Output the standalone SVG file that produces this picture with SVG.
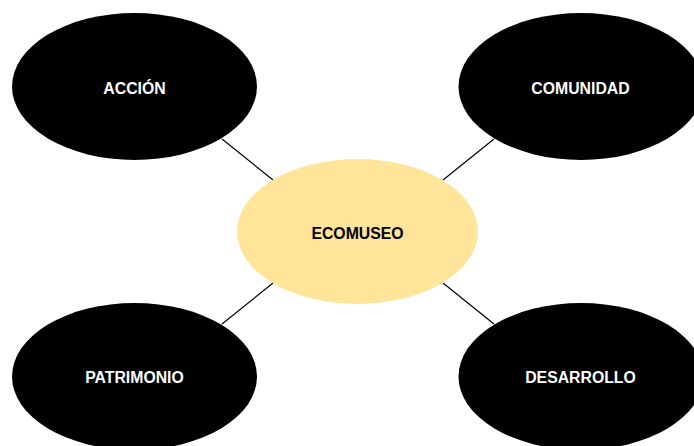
<svg xmlns="http://www.w3.org/2000/svg" width="694" height="446" viewBox="0 0 694 446">
  <style>
    .outer { fill: #000000; }
    .center { fill: #FFE599; }
    .conn { stroke: #000000; stroke-width: 1.2; fill: none; }
    .lbl { font-family: "Liberation Sans", Arial, sans-serif; font-weight: bold; font-size: 15.8px; text-anchor: middle; }
    .lbl-w { fill: #FFFFFF; }
    .lbl-b { fill: #000000; }
  </style>
  <rect width="694" height="446" fill="#FFFFFF"/>
  <g id="connectors">
    <line class="conn" x1="222" y1="139" x2="273" y2="180"/>
    <line class="conn" x1="494" y1="139" x2="443" y2="180"/>
    <line class="conn" x1="222" y1="324" x2="273" y2="283"/>
    <line class="conn" x1="494" y1="324" x2="443" y2="283"/>
  </g>
  <g id="accion">
    <ellipse class="outer" cx="134.5" cy="86.5" rx="122.5" ry="73.5"/>
    <text class="lbl lbl-w" x="134.5" y="93.5">ACCIÓN</text>
  </g>
  <g id="comunidad">
    <ellipse class="outer" cx="581" cy="86.5" rx="122.5" ry="73.5"/>
    <text class="lbl lbl-w" x="580.5" y="93.5">COMUNIDAD</text>
  </g>
  <g id="patrimonio">
    <ellipse class="outer" cx="134.5" cy="376.5" rx="122.5" ry="73.5"/>
    <text class="lbl lbl-w" x="134.5" y="383">PATRIMONIO</text>
  </g>
  <g id="desarrollo">
    <ellipse class="outer" cx="581" cy="376.5" rx="122.5" ry="73.5"/>
    <text class="lbl lbl-w" x="580.5" y="383">DESARROLLO</text>
  </g>
  <g id="ecomuseo">
    <ellipse class="center" cx="357.5" cy="231.5" rx="120.5" ry="72.5"/>
    <text class="lbl lbl-b" x="357.5" y="238.5">ECOMUSEO</text>
  </g>
</svg>
